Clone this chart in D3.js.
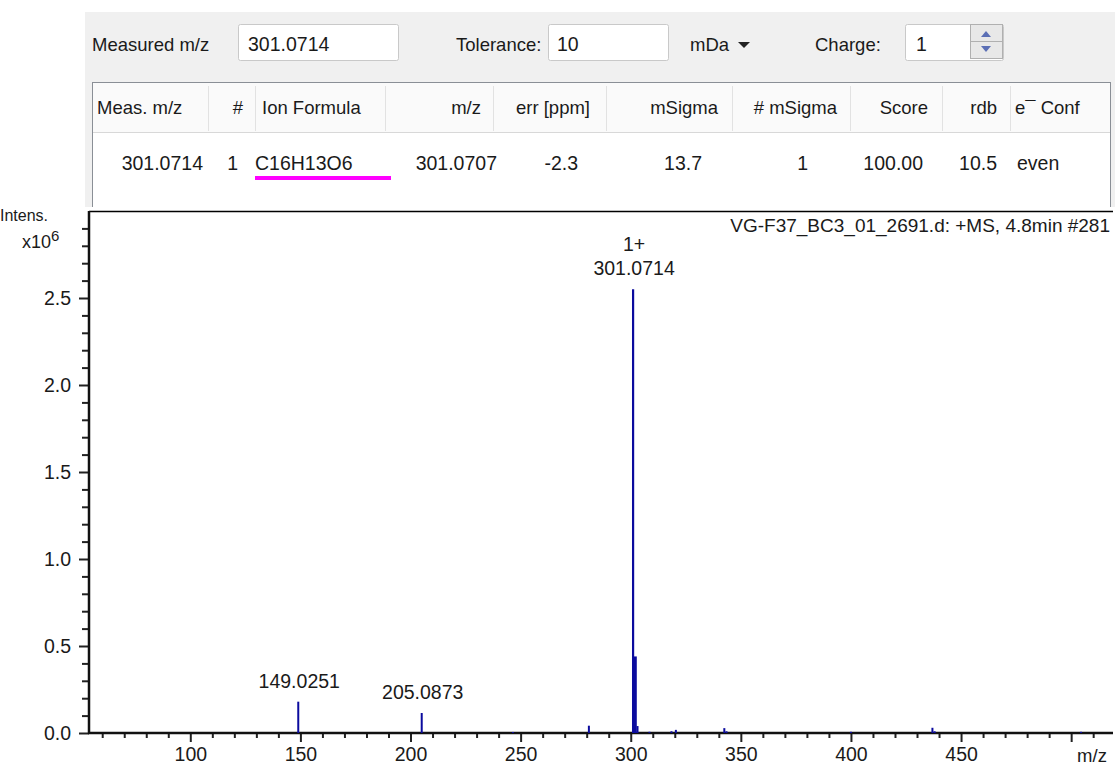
<!DOCTYPE html>
<html><head><meta charset="utf-8">
<script src="https://cdn.jsdelivr.net/npm/d3@7"></script>
<style>
html,body{margin:0;padding:0;background:#fff;}
svg{display:block;font-family:"Liberation Sans",Arial,sans-serif;}
</style></head>
<body><svg id="c" width="1115" height="767"></svg>
<script>
// ---- data ----
const peakMz = [149.0251, 205.0873, 246.5, 281.0, 301.0714, 302.075, 303.08, 308.5, 318.5, 320.5, 342.5, 343.5, 400.0, 437.0, 438.0, 504.5];
const peakIntensity = [0.18, 0.115, 0.006, 0.042, 2.55, 0.44, 0.04, 0.007, 0.01, 0.018, 0.028, 0.01, 0.007, 0.03, 0.01, 0.007]; // x10^6
const peakLabels = [{mz:149.0251, i:0.18, lines:["149.0251"]},{mz:205.0873, i:0.115, lines:["205.0873"]},{mz:301.0714, i:2.55, lines:["1+","301.0714"]}];
const xMajorTicks = [100,150,200,250,300,350,400,450,500];
const xTickLabels = ["100","150","200","250","300","350","400","450",""];
const yMajorTicks = [0,0.5,1.0,1.5,2.0,2.5];
const yTickLabels = ["0.0","0.5","1.0","1.5","2.0","2.5"];
const tableHeaders = ["Meas. m/z","#","Ion Formula","m/z","err [ppm]","mSigma","# mSigma","Score","rdb","e\u00AF Conf"];
const tableRow = ["301.0714","1","C16H13O6","301.0707","-2.3","13.7","1","100.00","10.5","even"];
const spectrumTitle = "VG-F37_BC3_01_2691.d: +MS, 4.8min #281";

const svg = d3.select("#c");
const F = 19.5, FW = 18.5;

// ---- top panel ----
svg.append("rect").attr("x",85).attr("y",12).attr("width",1030).attr("height",200).attr("fill","#f0f0f0");
function label(x,y,t,anchor,size,fill){return svg.append("text").attr("x",x).attr("y",y).attr("text-anchor",anchor||"start").attr("font-size",size||F).attr("fill",fill||"#1a1a1a").text(t);}
function box(x,y,w,h){svg.append("rect").attr("x",x+0.5).attr("y",y+0.5).attr("width",w).attr("height",h).attr("rx",2).attr("fill","#fff").attr("stroke","#c9c9c9");}
label(92,51,"Measured m/z","start",FW);
box(238,24,160,36); label(248,51,"301.0714");
label(456,51,"Tolerance:","start",FW);
box(548,24,120,36); label(557,51,"10");
label(690,51,"mDa","start",FW);
svg.append("path").attr("d","M738,42 L750,42 L744,48 Z").attr("fill","#222");
label(815,51,"Charge:","start",FW);
box(905,24,98,36); label(916,51,"1");
svg.append("rect").attr("x",970.5).attr("y",24.5).attr("width",32).attr("height",34).attr("fill","#e8e8e8").attr("stroke","#b0b0b0");
svg.append("line").attr("x1",971).attr("x2",1002).attr("y1",41.5).attr("y2",41.5).attr("stroke","#b0b0b0");
svg.append("path").attr("d","M981,37 L991,37 L986,31 Z").attr("fill","#5b6fb5");
svg.append("path").attr("d","M981,46 L991,46 L986,52 Z").attr("fill","#5b6fb5");

// table
svg.append("rect").attr("x",92.5).attr("y",82.5).attr("width",1018).attr("height",140).attr("fill","#fff").attr("stroke","#8a8f96");
svg.append("rect").attr("x",93).attr("y",83).attr("width",1017).attr("height",49).attr("fill","#fafafa");
svg.append("line").attr("x1",93).attr("x2",1110).attr("y1",132.5).attr("y2",132.5).attr("stroke","#d8d8d8");
const sepX = [208,255,385,493,606,732,850,942,1010];
sepX.forEach(x=>svg.append("line").attr("x1",x+0.5).attr("x2",x+0.5).attr("y1",86).attr("y2",131).attr("stroke","#e2e2e2"));
const hdrX = [97,243,262,481,590,718,837,928,997,1015];
const hdrA = ["start","end","start","end","end","end","end","end","end","start"];
tableHeaders.forEach((t,i)=>label(hdrX[i],114,t,hdrA[i],FW));
const rowX = [203,238,255,497,578,702,808,923,997,1017];
const rowA = ["end","end","start","end","end","end","end","end","end","start"];
tableRow.forEach((t,i)=>label(rowX[i],170,t,rowA[i]));
svg.append("rect").attr("x",255).attr("y",176).attr("width",136).attr("height",4).attr("fill","#ff00ff");

// ---- chart ----
svg.append("rect").attr("x",0).attr("y",207).attr("width",1115).attr("height",560).attr("fill","#fff");
const x = d3.scaleLinear().domain([54,519]).range([89,1113]);
const y = d3.scaleLinear().domain([0,3.0]).range([733,211]);

const g = svg.append("g");
g.append("line").attr("x1",89).attr("x2",1113).attr("y1",211.5).attr("y2",211.5).attr("stroke","#000").attr("stroke-width",1.5);

// y axis
const yMinor = d3.range(0,30).map(d=>d/10).filter(v=>!yMajorTicks.some(m=>Math.abs(m-v)<1e-6));
const yAxisMaj = d3.axisLeft(y).tickValues(yMajorTicks).tickSize(10).tickFormat((d,i)=>yTickLabels[i]);
const yAxisMin = d3.axisLeft(y).tickValues(yMinor).tickSize(7).tickFormat("");
const gyMin = g.append("g").attr("transform","translate(89,0)").call(yAxisMin);
const gy = g.append("g").attr("transform","translate(89,0)").call(yAxisMaj);
[gy,gyMin].forEach(a=>{a.select(".domain").remove();a.selectAll("line").attr("stroke","#222").attr("stroke-width",2);});
gy.selectAll("text").attr("font-size",F).attr("fill","#1a1a1a").attr("x",-18).attr("font-family","Liberation Sans, Arial, sans-serif");

// x axis
const xMinor = d3.range(60,520,10).filter(v=>v%50!==0);
const xAxisMaj = d3.axisBottom(x).tickValues(xMajorTicks).tickSize(9).tickFormat((d,i)=>xTickLabels[i]);
const xAxisMin = d3.axisBottom(x).tickValues(xMinor).tickSize(5).tickFormat("");
const gxMin = g.append("g").attr("transform","translate(0,733)").call(xAxisMin);
const gx = g.append("g").attr("transform","translate(0,733)").call(xAxisMaj);
[gx,gxMin].forEach(a=>{a.select(".domain").remove();a.selectAll("line").attr("stroke","#222").attr("stroke-width",2);});
gx.selectAll("text").attr("font-size",F).attr("fill","#1a1a1a").attr("y",14).attr("font-family","Liberation Sans, Arial, sans-serif");

g.append("line").attr("x1",89).attr("x2",89).attr("y1",211).attr("y2",734).attr("stroke","#111").attr("stroke-width",2.5);
g.append("line").attr("x1",88).attr("x2",1113).attr("y1",733).attr("y2",733).attr("stroke","#111").attr("stroke-width",2.5);

label(1092,762,"m/z","middle",FW);
label(0,221,"Intens.","start",16);
const xt = label(22,248,"x10","start",18);
xt.append("tspan").attr("dy",-7).attr("font-size",15).text("6");
label(1110,232,spectrumTitle,"end",19);

// peaks
g.selectAll("line.peak").data(peakMz).enter().append("line").attr("class","peak")
 .attr("x1",d=>x(d)).attr("x2",d=>x(d)).attr("y1",y(0)).attr("y2",(d,i)=>y(peakIntensity[i]))
 .attr("stroke","#0b0b9e").attr("stroke-width",(d,i)=>peakIntensity[i]>1?2.2:(peakIntensity[i]>0.3?3:2));

peakLabels.forEach(p=>{
  const n = p.lines.length;
  p.lines.forEach((t,k)=>label(x(p.mz)+1,y(p.i)-14-(n-1-k)*24,t,"middle",19.5));
});
</script></body></html>
